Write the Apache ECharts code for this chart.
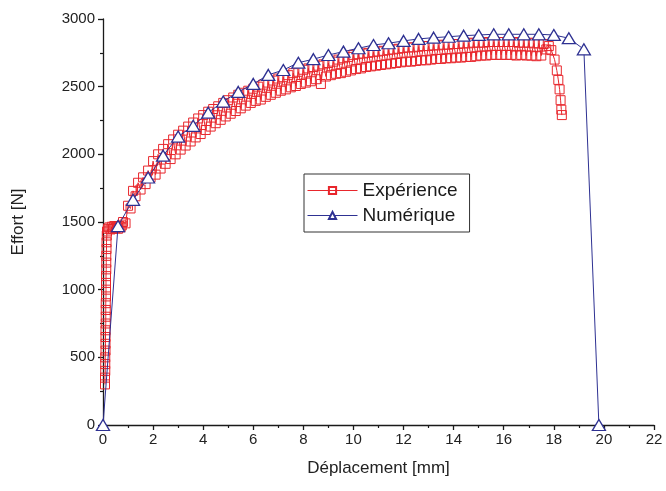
<!DOCTYPE html>
<html>
<head>
<meta charset="utf-8">
<script src="https://cdn.jsdelivr.net/npm/echarts@6/dist/echarts.min.js"></script>
<style>
  html, body { margin: 0; padding: 0; background: #fff; }
  #chart { width: 666px; height: 491px; }
</style>
</head>
<body>
<div id="chart"></div>
<script>
// Expérience: measured force vs displacement [mm, N]
const experience = [
  [0.08, 300], [0.08, 350], [0.09, 400], [0.09, 450], [0.09, 500], [0.10, 550], [0.10, 600],
  [0.10, 650], [0.10, 700], [0.11, 750], [0.11, 800], [0.11, 850], [0.11, 900], [0.12, 950],
  [0.12, 1000], [0.12, 1050], [0.12, 1100], [0.13, 1150], [0.13, 1200], [0.13, 1250], [0.14, 1300],
  [0.14, 1350], [0.15, 1400], [0.16, 1430], [0.2, 1450],
  [0.25, 1460], [0.3, 1445], [0.35, 1465], [0.4, 1450], [0.45, 1470], [0.5, 1455], [0.55, 1465],
  [0.6, 1450], [0.65, 1470], [0.7, 1460], [0.75, 1475],
  [0.8, 1500], [0.9, 1490], [1.0, 1620], [1.1, 1600], [1.2, 1730], [1.3, 1690], [1.4, 1790],
  [1.5, 1740], [1.6, 1830], [1.7, 1780], [1.8, 1880], [1.9, 1830],
  [2.0, 1950], [2.1, 1850], [2.2, 2000], [2.3, 1895], [2.4, 2040], [2.5, 1930], [2.6, 2075],
  [2.7, 1965], [2.8, 2110], [2.9, 2000], [3.0, 2145], [3.1, 2035], [3.2, 2175], [3.3, 2065],
  [3.4, 2205], [3.5, 2095], [3.6, 2235], [3.7, 2125], [3.8, 2265], [3.9, 2150], [4.0, 2290],
  [4.1, 2180], [4.2, 2315], [4.3, 2205], [4.4, 2335], [4.5, 2230], [4.6, 2355], [4.7, 2255],
  [4.8, 2380], [4.9, 2280], [5.0, 2400], [5.1, 2300], [5.2, 2420], [5.3, 2320], [5.4, 2440],
  [5.5, 2340], [5.6, 2455], [5.7, 2360], [5.8, 2470], [5.9, 2380], [6.0, 2485], [6.1, 2395],
  [6.2, 2500], [6.3, 2405], [6.4, 2515], [6.5, 2425], [6.6, 2530], [6.7, 2440], [6.8, 2545],
  [6.9, 2455], [7.0, 2560], [7.1, 2470], [7.2, 2570], [7.3, 2480], [7.4, 2585], [7.5, 2495],
  [7.6, 2600], [7.7, 2505], [7.8, 2610], [7.9, 2520], [8.0, 2625], [8.1, 2530], [8.2, 2635],
  [8.3, 2540], [8.4, 2645], [8.5, 2555], [8.6, 2655], [8.7, 2520], [8.8, 2665], [8.9, 2575],
  [9.0, 2675], [9.1, 2585], [9.2, 2685], [9.3, 2595], [9.4, 2700], [9.5, 2600], [9.6, 2710],
  [9.7, 2610], [9.8, 2720], [9.9, 2620], [10.0, 2735], [10.1, 2630], [10.2, 2740], [10.3, 2635],
  [10.4, 2745], [10.5, 2645], [10.6, 2750], [10.7, 2650], [10.8, 2755], [10.9, 2655], [11.0, 2760],
  [11.1, 2660], [11.2, 2765], [11.3, 2665], [11.4, 2770], [11.5, 2670], [11.6, 2775], [11.7, 2675],
  [11.8, 2780], [11.9, 2680], [12.0, 2785], [12.1, 2685], [12.2, 2790], [12.3, 2685], [12.4, 2790],
  [12.5, 2690], [12.6, 2795], [12.7, 2695], [12.8, 2800], [12.9, 2695], [13.0, 2800], [13.1, 2700],
  [13.2, 2805], [13.3, 2705], [13.4, 2805], [13.5, 2705], [13.6, 2810], [13.7, 2710], [13.8, 2810],
  [13.9, 2710], [14.0, 2815], [14.1, 2715], [14.2, 2815], [14.3, 2715], [14.4, 2820], [14.5, 2720],
  [14.6, 2820], [14.7, 2720], [14.8, 2825], [14.9, 2725], [15.0, 2825], [15.1, 2730], [15.2, 2825],
  [15.3, 2730], [15.4, 2830], [15.5, 2735], [15.6, 2830], [15.7, 2735], [15.8, 2830], [15.9, 2735],
  [16.0, 2830], [16.1, 2735], [16.2, 2830], [16.3, 2735], [16.4, 2830], [16.5, 2730], [16.6, 2825],
  [16.7, 2735], [16.8, 2825], [16.9, 2730], [17.0, 2825], [17.1, 2730], [17.2, 2820], [17.3, 2725],
  [17.4, 2820], [17.5, 2730], [17.6, 2815], [17.7, 2775], [17.8, 2800],
  [17.9, 2770], [18.03, 2700], [18.12, 2620], [18.18, 2550], [18.23, 2480], [18.27, 2400],
  [18.3, 2330], [18.32, 2290]
];

// Numérique: simulated force vs displacement [mm, N]
const numerique = [
  [0, 0], [0.6, 1470], [1.2, 1664], [1.8, 1829], [2.4, 1990], [3.0, 2131], [3.6, 2211],
  [4.2, 2308], [4.8, 2390], [5.4, 2461], [6.0, 2520], [6.6, 2587], [7.2, 2623], [7.8, 2677],
  [8.4, 2703], [9.0, 2734], [9.6, 2759], [10.2, 2784], [10.8, 2808], [11.4, 2821], [12.0, 2838],
  [12.6, 2853], [13.2, 2862], [13.8, 2869], [14.4, 2877], [15.0, 2882], [15.6, 2887], [16.2, 2887],
  [16.8, 2887], [17.4, 2887], [18.0, 2882], [18.6, 2858], [19.2, 2776], [19.8, 0]
];

const seriesNames = ['Expérience', 'Numérique'];
const xTicks = { min: 0, max: 22, step: 2 };
const yTicks = { min: 0, max: 3000, step: 500 };

const font = 'Liberation Sans, Arial, sans-serif';
const red = '#e8262c';
const blue = '#2e3192';

const chart = echarts.init(document.getElementById('chart'), null, { renderer: 'canvas' });

function axisCommon() {
  return {
    type: 'value',
    axisLine: { show: true, onZero: false, lineStyle: { color: '#1a1a1a', width: 1.3 } },
    axisTick: { show: true, inside: false, length: 5, lineStyle: { color: '#1a1a1a', width: 1.3 } },
    minorTick: { show: true, splitNumber: 2, length: 3, lineStyle: { color: '#1a1a1a', width: 1.2 } },
    splitLine: { show: false },
    nameLocation: 'middle',
    nameTextStyle: { color: '#222', fontSize: 17, fontFamily: font }
  };
}

chart.setOption({
  animation: false,
  backgroundColor: '#fff',
  grid: { left: 103, right: 12, top: 19, bottom: 66 },
  legend: {
    orient: 'vertical',
    left: 304,
    top: 174,
    data: seriesNames,
    borderColor: '#333',
    borderWidth: 1,
    padding: [7, 12, 7, 3],
    itemGap: 6,
    itemWidth: 50,
    itemHeight: 9,
    lineStyle: { width: 1 },
    textStyle: { fontSize: 19, fontFamily: font, color: '#1a1a1a' }
  },
  xAxis: Object.assign(axisCommon(), {
    min: xTicks.min, max: xTicks.max, interval: xTicks.step,
    name: 'Déplacement [mm]', nameGap: 35,
    axisLabel: { color: '#222', fontSize: 15, fontFamily: font, margin: 7 }
  }),
  yAxis: Object.assign(axisCommon(), {
    min: yTicks.min, max: yTicks.max, interval: yTicks.step,
    name: 'Effort [N]', nameGap: 76,
    axisLabel: { color: '#222', fontSize: 15, fontFamily: font, margin: 8, formatter: v => String(v) }
  }),
  series: [
    {
      name: seriesNames[0],
      type: 'line',
      data: experience,
      symbol: 'rect',
      symbolSize: 9,
      showAllSymbol: true,
      lineStyle: { color: red, width: 1 },
      itemStyle: { color: 'rgba(255,255,255,0)', borderColor: red, borderWidth: 1 },
      z: 2
    },
    {
      name: seriesNames[1],
      type: 'line',
      data: numerique,
      symbol: 'triangle',
      symbolSize: [13, 11],
      showAllSymbol: true,
      lineStyle: { color: blue, width: 1 },
      itemStyle: { color: '#fff', borderColor: blue, borderWidth: 1.3 },
      z: 3
    }
  ]
});
</script>
</body>
</html>
